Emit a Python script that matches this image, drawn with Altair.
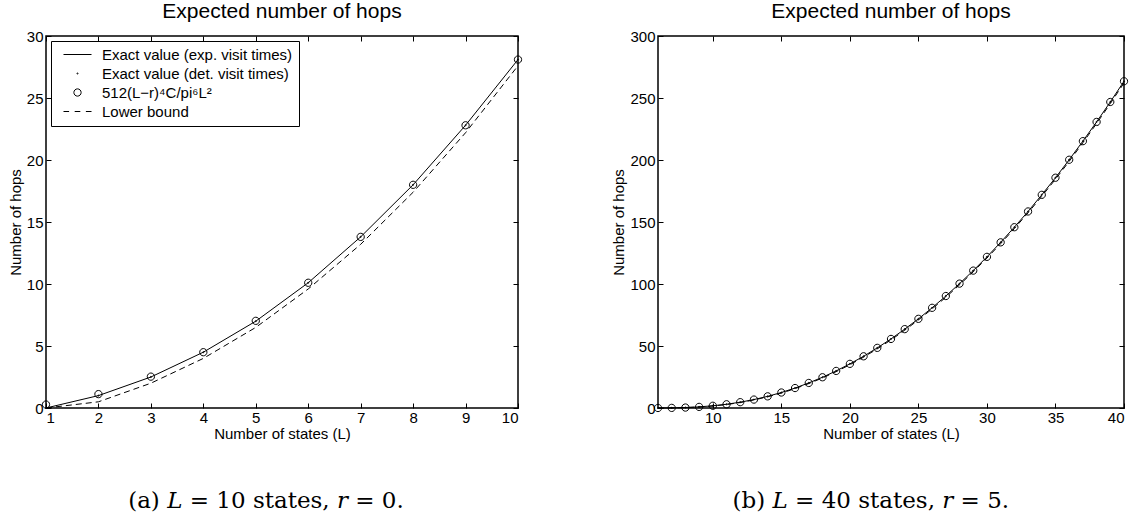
import altair as alt
import pandas as pd

# ---------------- data ----------------
S1 = "Exact value (exp. visit times)"
S2 = "Exact value (det. visit times)"
S3 = "512(L\u2212r)\u2074C/pi\u2076L\u00b2"
S4 = "Lower bound"
SERIES = [S1, S2, S3, S4]

# panel (a): L = 10 states, r = 0
L_a = [1, 2, 3, 4, 5, 6, 7, 8, 9, 10]
exact_exp_a = [0.0, 1.0, 2.5, 4.5, 7.0, 10.1, 13.8, 18.0, 22.8, 28.1]
exact_det_a = [0.0, 1.0, 2.5, 4.5, 7.0, 10.1, 13.8, 18.0, 22.8, 28.1]
approx_a = [0.28, 1.12, 2.53, 4.5, 7.03, 10.1, 13.8, 18.0, 22.8, 28.1]
lower_a = [0.0, 0.5, 2.0, 4.0, 6.5, 9.6, 13.2, 17.4, 22.2, 27.6]

# panel (b): L = 40 states, r = 5
L_b = list(range(6, 41))
exact_exp_b = [0.0, 0.1, 0.4, 0.9, 1.8, 3.0, 4.7, 6.8, 9.4, 12.5, 16.1, 20.2, 24.8,
               29.9, 35.6, 41.7, 48.5, 55.7, 63.6, 71.9, 80.8, 90.3, 100.3, 110.8,
               121.9, 133.6, 145.8, 158.5, 171.9, 185.7, 200.2, 215.2, 230.7, 246.8, 263.5]
exact_det_b = [0.0, 0.1, 0.4, 0.9, 1.8, 3.0, 4.7, 6.8, 9.4, 12.5, 16.1, 20.2, 24.8,
               29.9, 35.6, 41.7, 48.5, 55.7, 63.6, 71.9, 80.8, 90.3, 100.3, 110.8,
               121.9, 133.6, 145.8, 158.5, 171.9, 185.7, 200.2, 215.2, 230.7, 246.8, 263.5]
approx_b = [0.01, 0.09, 0.36, 0.89, 1.8, 3.0, 4.7, 6.8, 9.4, 12.5, 16.1, 20.2, 24.8,
            29.9, 35.6, 41.7, 48.5, 55.7, 63.6, 71.9, 80.8, 90.3, 100.3, 110.8,
            121.9, 133.6, 145.8, 158.5, 171.9, 185.7, 200.2, 215.2, 230.7, 246.8, 263.5]
lower_b = [0.0, 0.05, 0.3, 0.8, 1.6, 2.8, 4.4, 6.5, 9.0, 12.0, 15.6, 19.7, 24.2,
           29.3, 34.9, 41.0, 47.7, 54.9, 62.7, 71.0, 79.9, 89.3, 99.3, 109.8,
           120.9, 132.5, 144.7, 157.4, 170.7, 184.5, 198.9, 213.9, 229.4, 245.5, 262.1]

xticks_a = [1, 2, 3, 4, 5, 6, 7, 8, 9, 10]
yticks_a = [0, 5, 10, 15, 20, 25, 30]
xticks_b = [10, 15, 20, 25, 30, 35, 40]
yticks_b = [0, 50, 100, 150, 200, 250, 300]

TITLE = "Expected number of hops"
XTITLE = "Number of states (L)"
YTITLE = "Number of hops"
CAP_A = "(a) \U0001D43F = 10 states, \U0001D45F = 0."
CAP_B = "(b) \U0001D43F = 40 states, \U0001D45F = 5."

# legend / marker symbols (unit paths, unit = sqrt(SYM)/2 px)
P_LINE = "M-2,0H2"
P_DOT = "M-0.08,0A0.08,0.08 0 1,0 0.08,0A0.08,0.08 0 1,0 -0.08,0"
P_CIRC = "M-0.52,0A0.52,0.52 0 1,0 0.52,0A0.52,0.52 0 1,0 -0.52,0"
P_DASH = "M-2,0H-1.2M-0.4,0H0.4M1.2,0H2"
SYM = 196

FONT = "Liberation Sans"


def make_df(Ls, e, d, a, lo):
    rows = []
    for s, vals in zip(SERIES, [e, d, a, lo]):
        for x, v in zip(Ls, vals):
            rows.append({"L": x, "hops": v, "series": s})
    return pd.DataFrame(rows)


def panel(df, xdom, xticks, ydom, yticks, w, h, caption, title_offset):
    xs = alt.Scale(domain=xdom, nice=False, zero=False)
    ys = alt.Scale(domain=ydom, nice=False, zero=False)
    common = dict(offset=-5, tickSize=5, domain=False, grid=False,
                  tickColor="black", tickWidth=1,
                  labelFont=FONT, labelFontSize=15, labelColor="black",
                  titleFont=FONT, titleFontSize=15, titleFontWeight="normal",
                  titleColor="black")
    x_bottom = alt.X("L:Q", scale=xs,
                     axis=alt.Axis(values=xticks, title=XTITLE, orient="bottom",
                                   labelPadding=2, titlePadding=1, format="d", **common))
    y_left = alt.Y("hops:Q", scale=ys,
                   axis=alt.Axis(values=yticks, title=YTITLE, orient="left",
                                 labelPadding=3, titlePadding=3, format="d", **common))
    x_top = alt.X("L:Q", scale=xs,
                  axis=alt.Axis(values=xticks, orient="top", labels=False, title=None,
                                offset=-5, tickSize=5, domain=False, grid=False,
                                tickColor="black"))
    y_right = alt.Y("hops:Q", scale=ys,
                    axis=alt.Axis(values=yticks, orient="right", labels=False, title=None,
                                  offset=-5, tickSize=5, domain=False, grid=False,
                                  tickColor="black"))

    base = alt.Chart(df)
    solid = base.transform_filter(alt.datum.series == S1).mark_line(
        color="black", strokeWidth=1).encode(x=x_bottom, y=y_left)
    dashed = base.transform_filter(alt.datum.series == S4).mark_line(
        color="black", strokeWidth=1, strokeDash=[6, 4]).encode(x=x_top, y=y_right)
    pts = base.transform_filter(
        (alt.datum.series == S2) | (alt.datum.series == S3)
    ).mark_point(color="black", filled=False, size=SYM, strokeWidth=1, opacity=1).encode(
        x=alt.X("L:Q", scale=xs, axis=None),
        y=alt.Y("hops:Q", scale=ys, axis=None),
        shape=alt.Shape("series:N",
                        scale=alt.Scale(domain=SERIES, range=[P_LINE, P_DOT, P_CIRC, P_DASH]),
                        legend=alt.Legend(title=None, orient="top-left", offset=5,
                                          padding=6, rowPadding=3, labelOffset=17,
                                          symbolOffset=13,
                                          symbolSize=SYM, symbolStrokeWidth=1,
                                          symbolStrokeColor="black",
                                          symbolFillColor="transparent",
                                          labelFont=FONT, labelFontSize=15,
                                          labelColor="black", labelLimit=400,
                                          strokeColor="black", fillColor="white")),
    )
    layer = alt.layer(solid, dashed, pts).resolve_axis(
        x="independent", y="independent"
    ).properties(
        width=w, height=h,
        title=alt.TitleParams(TITLE, font=FONT, fontSize=21, fontWeight="normal",
                              color="black", offset=title_offset),
    )
    return alt.vconcat(layer, title=alt.TitleParams(
        caption, orient="bottom", font="DejaVu Serif", fontSize=23, fontWeight="normal",
        color="black", anchor="middle", offset=48))


df_a = make_df(L_a, exact_exp_a, exact_det_a, approx_a, lower_a)
df_b = make_df(L_b, exact_exp_b, exact_det_b, approx_b, lower_b)

left = panel(df_a, [1, 10], xticks_a, [0, 30], yticks_a, 472, 372, CAP_A, 7)
right = panel(df_b, [6, 40], xticks_b, [0, 300], yticks_b, 466, 372, CAP_B, 7)

chart = alt.hconcat(left, right, spacing=86).properties(
    padding={"left": 7, "top": 0, "right": 2, "bottom": 2}
).configure(background="white").configure_view(stroke="black", strokeWidth=1.5)

chart.save("out.html", embed_options={"renderer": "svg", "actions": False})
